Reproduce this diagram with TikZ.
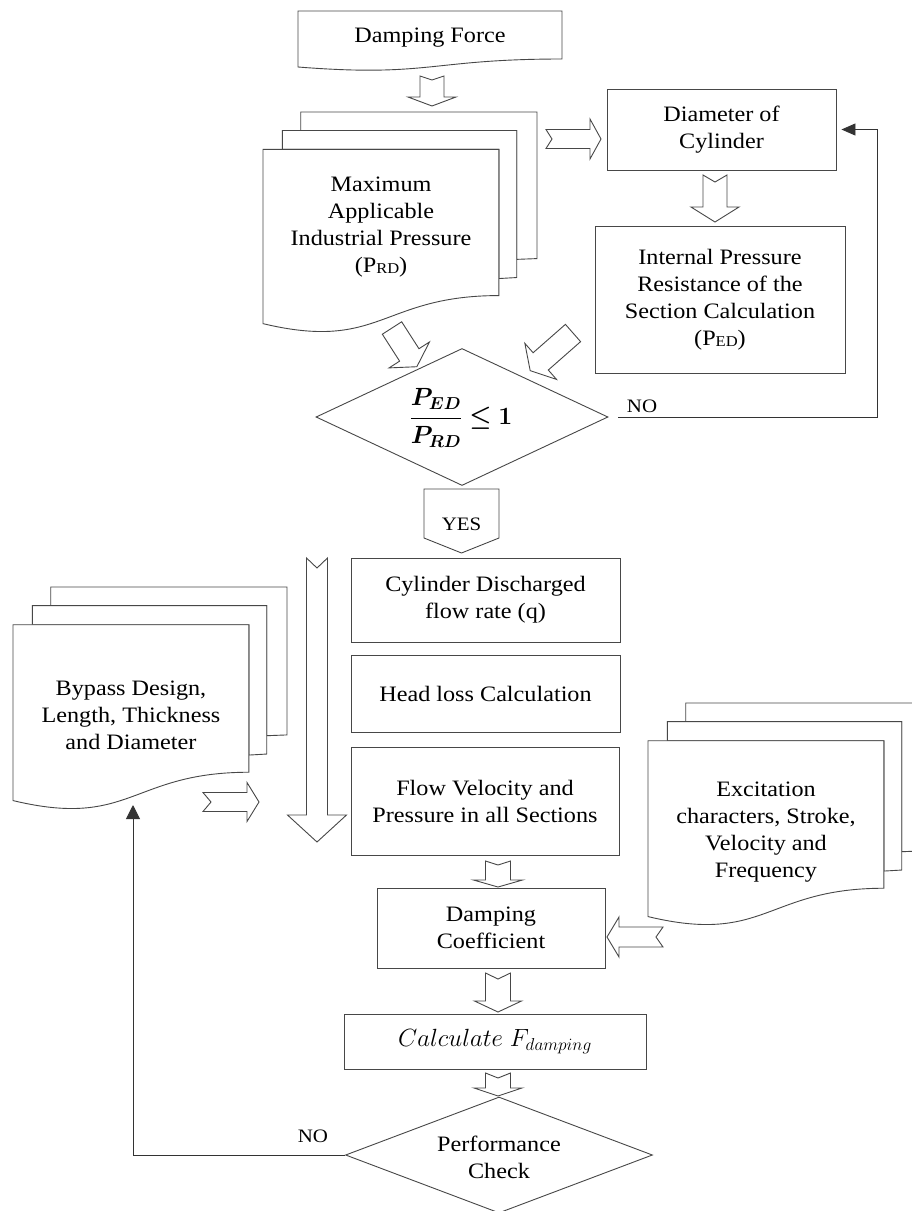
\documentclass[tikz,border=0pt]{standalone}
\usepackage{amsmath,bm}
\usepackage{fontspec}
\setmainfont{Liberation Serif}[FakeStretch=1.1]
\usetikzlibrary{arrows.meta,shapes.geometric}
\newcommand{\mytxt}{\fontsize{22}{27}\selectfont}
\newcommand{\mysmall}{\fontsize{19}{22}\selectfont}
\newcommand{\mymath}{\fontsize{25}{30}\selectfont}
\newcommand{\sbs}[1]{\raisebox{-1.5pt}{\fontsize{15}{15}\selectfont #1}}
\tikzset{
  ln/.style={draw=black!72, line width=0.9pt},
  box/.style={ln, rectangle, fill=white, align=center, inner sep=0pt, font=\mytxt},
  txt/.style={align=center, inner sep=0pt, font=\mytxt},
  dec/.style={ln, diamond, fill=white, inner sep=0pt},
  blk/.style={ln, fill=white, line join=miter},
  conn/.style={draw=black!80, line width=0.9pt},
}
% block arrow: tail x, tail y, angle (clockwise, pixels), length, shaft w, head w, head len, notch
\newcommand{\barr}[8]{%
  \begin{scope}[shift={(#1,#2)},rotate=-#3]
    \draw[blk] (0,{-#5/2}) -- ({#4-#7},{-#5/2}) -- ({#4-#7},{-#6/2}) -- (#4,0)
      -- ({#4-#7},{#6/2}) -- ({#4-#7},{#5/2}) -- (0,{#5/2}) -- (#8,0) -- cycle;
  \end{scope}}
% multi-document: left, top, W, H
\newcommand{\mdoc}[4]{%
  \draw[ln,fill=white] ({#1+0.1376*#3},{#2+0.084*#4}) -- ({#1+0.1376*#3},#2) -- ({#1+#3},#2)
    -- ({#1+#3},{#2+0.6663*#4}) -- ({#1+0.926*#3},{#2+0.6698*#4}) -- ({#1+0.926*#3},{#2+0.084*#4}) -- cycle;
  \draw[ln,fill=white] ({#1+0.0709*#3},{#2+0.170*#4}) -- ({#1+0.0709*#3},{#2+0.084*#4}) -- ({#1+0.926*#3},{#2+0.084*#4})
    -- ({#1+0.926*#3},{#2+0.7524*#4}) -- ({#1+0.861*#3},{#2+0.757*#4}) -- ({#1+0.861*#3},{#2+0.170*#4}) -- cycle;
  \draw[ln,fill=white] (#1,{#2+0.962*#4}) .. controls ({#1+0.4305*#3},{#2+1.0899*#4}) and ({#1+0.4305*#3},{#2+0.8344*#4})
    .. ({#1+0.861*#3},{#2+0.8344*#4}) -- ({#1+0.861*#3},{#2+0.170*#4}) -- (#1,{#2+0.170*#4}) -- cycle;}
\begin{document}
\begin{tikzpicture}[x=1pt,y=-1pt]
\useasboundingbox (0,0) rectangle (912,1211);
\fill[white] (0,0) rectangle (912,1211);

% Damping Force (document)
\draw[ln,fill=white] (298,11) -- (562,11) -- (562,59) .. controls (430,59) and (430,77.4) .. (298,67) -- cycle;
\node[txt] (df) at (430,38) {Damping Force};

% Maximum applicable pressure (multi-document)
\mdoc{263}{112}{274}{220}
\node[txt] (mx) at (381,227) {Maximum\\Applicable\\Industrial Pressure\\(P\sbs{RD})};

% Boxes
\node[box, minimum width=229pt, minimum height=81pt] (dia) at (721.5,129.5) {Diameter of\\Cylinder};
\node[box, minimum width=250pt, minimum height=147pt] (ip) at (720,299.5) {Internal Pressure\\Resistance of the\\Section Calculation\\(P\sbs{ED})};

% Decision 1
\node[dec, minimum width=292pt, minimum height=137pt] (d1) at (462,417) {};
\node[txt, font=\mymath] (d1t) at (461,418) {$\bm{\dfrac{P_{ED}}{P_{RD}}\le 1}$};
\node[txt, font=\mysmall] (no1) at (642,406) {NO};

% YES pentagon
\draw[ln,fill=white] (424,489) -- (499,489) -- (499,538) -- (461.5,553) -- (424,538) -- cycle;
\node[txt, font=\mysmall] (yes) at (461.5,524) {YES};

% Middle column boxes
\node[box, minimum width=269pt, minimum height=84pt] (cyl) at (485.5,600) {Cylinder Discharged\\flow rate (q)};
\node[box, minimum width=269pt, minimum height=77pt] (hl) at (485.5,693.5) {Head loss Calculation};
\node[box, minimum width=268pt, minimum height=108pt] (fv) at (485,801) {Flow Velocity and\\Pressure in all Sections};

% Bypass (multi-document)
\mdoc{13}{587}{274}{222}
\node[txt] (bp) at (131,715) {Bypass Design,\\Length, Thickness\\and Diameter};
\coordinate (bpbot) at (133,805);

% Excitation (multi-document)
\mdoc{648}{703}{274}{222}
\node[txt] (ex) at (766,832) {Excitation\\characters, Stroke,\\Velocity and\\Frequency};

% Lower boxes
\node[box, minimum width=228pt, minimum height=80pt] (dc) at (491,928) {Damping\\Coefficient};
\node[box, minimum width=302pt, minimum height=55pt, font=\mymath] (calc) at (495,1041.5) {$Calculate\;F_{damping}$};

% Decision 2
\node[dec, minimum width=307pt, minimum height=116pt] (d2) at (499,1155) {};
\node[txt] (d2t) at (499,1157) {Performance\\Check};
\node[txt, font=\mysmall] (no2) at (313,1136) {NO};

% Block arrows
\barr{432}{76}{90}{30}{24}{48}{9}{4}
\barr{546}{139}{0}{55}{19}{40}{11}{6}
\barr{715}{175}{90}{47}{24}{48}{15}{7}
\barr{392}{328}{57.3}{46}{23}{48}{14}{0}
\barr{573}{333}{138.7}{57}{23}{48}{14}{0}
\barr{317}{558}{90}{284}{21}{59}{27}{10}
\barr{203}{802}{0}{56}{19}{39}{12}{8}
\barr{498}{861}{90}{26}{25}{49}{7}{4}
\barr{663}{937}{180}{56}{20}{40}{12}{7}
\barr{498}{973}{90}{39}{25}{47}{11}{6}
\barr{498}{1073}{90}{23}{25}{48}{8}{5}

% Connectors
\draw[conn,-{Triangle[length=14pt,width=12pt]}] ([xshift=10pt]d1.east) -- ++(259,0) |- ([xshift=5pt]dia.east);
\draw[conn,-{Triangle[length=14pt,width=14pt]}] (d2.west) -| (bpbot);
\end{tikzpicture}
\end{document}
